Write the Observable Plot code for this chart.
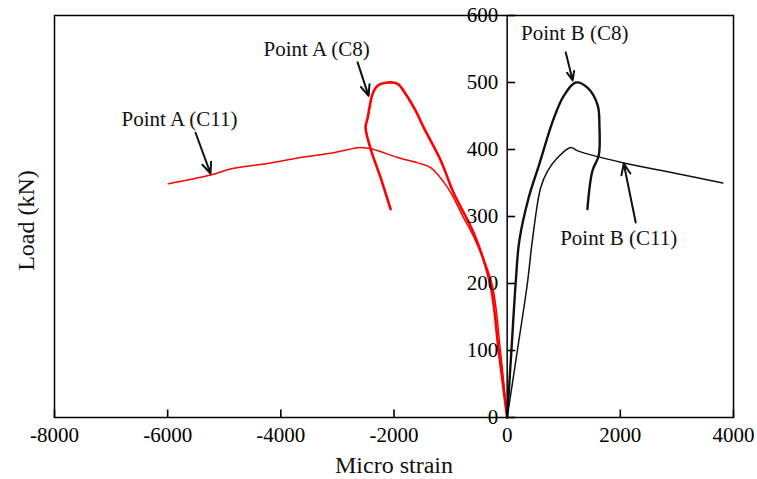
<!DOCTYPE html>
<html><head><meta charset="utf-8">
<script src="https://cdn.jsdelivr.net/npm/d3@7"></script>
<script src="https://cdn.jsdelivr.net/npm/@observablehq/plot@0.6"></script>
<style>body{margin:0;background:#fff;}</style>
</head><body><div id="chart"></div>
<script>
// ---- data ----
const xTicks = [-8000, -6000, -4000, -2000, 0, 2000, 4000];
const yTicks = [0, 100, 200, 300, 400, 500, 600];

// Point A (C8): red, thick
const redC8X = [0, -150, -300, -590, -945, -1176, -1476, -1618, -1795, -1936, -2113, -2290, -2378, -2466, -2502, -2413, -2237, -2060];
const redC8Y = [0, 100, 200, 275, 335, 384, 433, 458, 483, 498, 500, 495, 483, 447, 433, 401, 358, 311];
// Point A (C11): red, thin
const redC11X = [0, -120, -270, -560, -769, -1052, -1352, -1582, -1936, -2360, -2590, -3068, -3651, -4234, -4832, -5242, -5985];
const redC11Y = [0, 100, 200, 264, 298, 343, 373, 380, 388, 400, 403, 395, 388, 379, 372, 362, 349];
// Point B (C8): black, thick
const blackC8X = [0, 75, 150, 215, 380, 560, 822, 1000, 1211, 1423, 1600, 1630, 1618, 1506, 1418];
const blackC8Y = [0, 100, 200, 264, 328, 376, 446, 480, 500, 492, 466, 436, 391, 368, 311];
// Point B (C11): black, thin
const blackC11X = [0, 180, 357, 445, 592, 716, 893, 1123, 1247, 2060, 2944, 3811];
const blackC11Y = [0, 100, 200, 264, 343, 368, 388, 403, 398, 380, 365, 350];

// annotations
const labels = ["Point A (C11)", "Point A (C8)", "Point B (C8)", "Point B (C11)"];
const labelX = [-5790, -3368, 1194, 1971];
const labelY = [445, 550, 574, 268];
const arrowX1 = [-5507, -2643, 1034, 2272];
const arrowY1 = [425, 530, 545, 291];
const arrowX2 = [-5242, -2449, 1158, 2060];
const arrowY2 = [364, 480, 503, 379];

// ---- layout ----
const W = 757, H = 479, ML = 54, MR = 24, MT = 15, MB = 62;
const TICK = 8; // tick length in pixels
const xDomain = [-8000, 4000], yDomain = [0, 600];
const xPix = d3.scaleLinear(xDomain, [ML, W - MR]);
const shiftFromLeft = xPix(0) - ML;
// tick lengths expressed through the scales' units-per-pixel
const tickLenX = (xDomain[1] - xDomain[0]) / (W - ML - MR) * TICK;
const tickLenY = (yDomain[1] - yDomain[0]) / (H - MT - MB) * TICK;

const pts = (xs, ys) => xs.map((x, i) => ({x, y: ys[i]}));
const ann = labels.map((t, i) => ({t, x: labelX[i], y: labelY[i]}));
const arr = arrowX1.map((_, i) => ({x1: arrowX1[i], y1: arrowY1[i], x2: arrowX2[i], y2: arrowY2[i]}));

const fmt = d => String(d);

const chart = Plot.plot({
  width: W, height: H,
  marginLeft: ML, marginRight: MR, marginTop: MT, marginBottom: MB,
  style: {fontFamily: "'Liberation Serif', 'Times New Roman', serif", fontSize: "21px", color: "#000", background: "#fff"},
  x: {domain: xDomain, axis: null},
  y: {domain: yDomain, axis: null},
  marks: [
    Plot.line(pts(redC11X, redC11Y), {x: "x", y: "y", stroke: "#ff0000", strokeWidth: 1.5, curve: "catmull-rom"}),
    Plot.line(pts(redC8X, redC8Y), {x: "x", y: "y", stroke: "#ff0000", strokeWidth: 2.6, curve: "catmull-rom"}),
    Plot.line(pts(blackC11X, blackC11Y), {x: "x", y: "y", stroke: "#111", strokeWidth: 1.5, curve: "catmull-rom"}),
    Plot.line(pts(blackC8X, blackC8Y), {x: "x", y: "y", stroke: "#111", strokeWidth: 2.4, curve: "catmull-rom"}),
    Plot.frame({strokeWidth: 1.5}),
    Plot.ruleX([0], {strokeWidth: 1.5}),
    // x ticks pointing up from the bottom edge
    Plot.link(xTicks, {x1: d => d, x2: d => d, y1: () => yDomain[0], y2: () => yDomain[0] + tickLenY, stroke: "#000", strokeWidth: 1.6}),
    // x tick labels
    Plot.axisX(xTicks, {anchor: "bottom", tickSize: 0, tickPadding: 10, tickFormat: fmt, fontSize: 21, label: null}),
    // y ticks pointing right from the x = 0 axis
    Plot.link(yTicks, {x1: () => 0, x2: () => tickLenX, y1: d => d, y2: d => d, stroke: "#000", strokeWidth: 1.6}),
    // y tick labels left of the x = 0 axis
    Plot.axisY(yTicks, {anchor: "left", dx: shiftFromLeft, tickSize: 0, tickPadding: 9, tickFormat: fmt, fontSize: 21, label: null}),
    Plot.arrow(arr, {x1: "x1", y1: "y1", x2: "x2", y2: "y2", stroke: "#111", strokeWidth: 2, headLength: 9, headAngle: 45}),
    Plot.text(ann, {x: "x", y: "y", text: "t", fontSize: 21, fill: "#111", lineAnchor: "middle"}),
    Plot.text(["Micro strain"], {frameAnchor: "bottom", dy: 48, fontSize: 24, textAnchor: "middle", lineAnchor: "middle", fill: "#111"}),
    Plot.text(["Load (kN)"], {frameAnchor: "left", dx: -28, dy: 4, rotate: -90, fontSize: 24, textAnchor: "middle", lineAnchor: "middle", fill: "#111"})
  ]
});
document.getElementById("chart").append(chart);
</script>
</body></html>
